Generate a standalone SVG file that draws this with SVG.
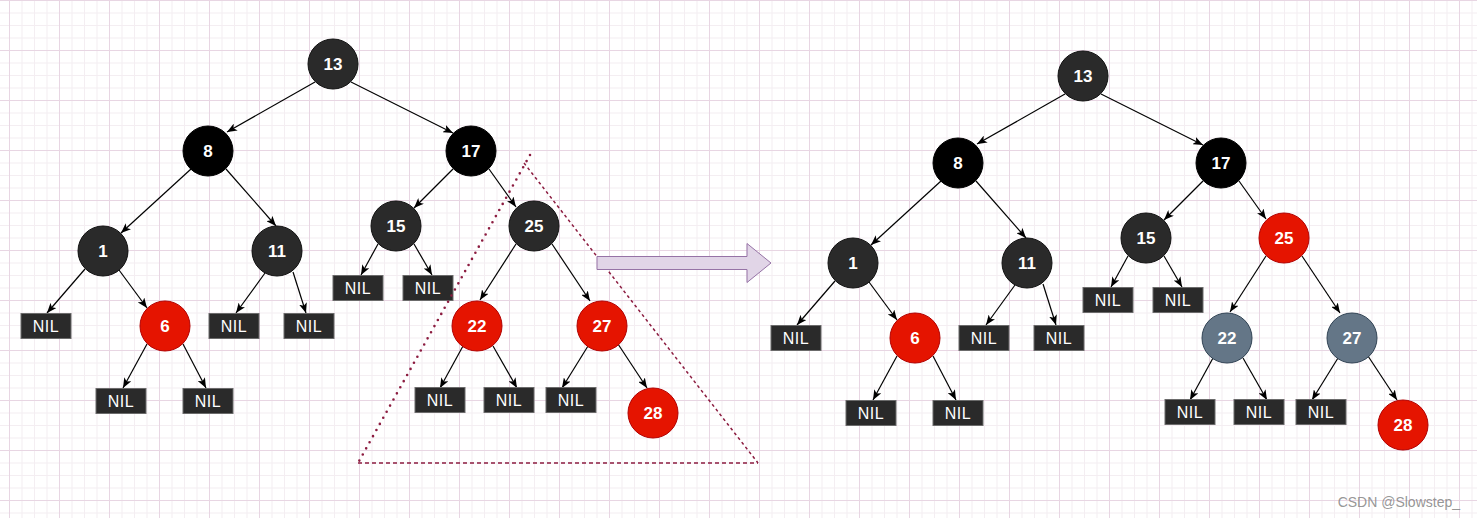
<svg xmlns="http://www.w3.org/2000/svg" width="1477" height="518" viewBox="0 0 1477 518">
<style>
.dark{fill:#2a2a2a;stroke:#111;stroke-width:1}
.black{fill:#000;stroke:#000;stroke-width:1}
.red{fill:#e51400;stroke:#b20000;stroke-width:1}
.slate{fill:#647687;stroke:#314354;stroke-width:1}
.nil{fill:#2a2a2a;stroke:#6b6b6b;stroke-width:1}
.num{font-family:"Liberation Sans",Arial,sans-serif;font-size:17px;font-weight:bold;fill:#fff;text-anchor:middle}
.nt{font-family:"Liberation Sans",Arial,sans-serif;font-size:16px;fill:#fff;text-anchor:middle;letter-spacing:0.5px}
.edge{stroke:#000;stroke-width:1.2;fill:none;marker-end:url(#ah)}
.tri{fill:none;stroke:#8c1c40}
</style>
<defs>
<pattern id="grid" x="9" y="0" width="50" height="50" patternUnits="userSpaceOnUse">
<rect width="50" height="50" fill="#fff"/>
<rect x="12.5" y="0" width="1" height="50" fill="#f4eef2"/>
<rect x="25" y="0" width="1" height="50" fill="#f4eef2"/>
<rect x="37.5" y="0" width="1" height="50" fill="#f4eef2"/>
<rect x="0" y="12.5" width="50" height="1" fill="#f4eef2"/>
<rect x="0" y="25" width="50" height="1" fill="#f4eef2"/>
<rect x="0" y="37.5" width="50" height="1" fill="#f4eef2"/>
<rect x="0" y="0" width="1" height="50" fill="#e8d6e3"/>
<rect x="0" y="0" width="50" height="1" fill="#e8d6e3"/>
</pattern>
<marker id="ah" viewBox="0 0 10 8" refX="10" refY="4" markerWidth="10" markerHeight="8" markerUnits="userSpaceOnUse" orient="auto">
<path d="M0,0 L10,4 L0,8 L2.5,4 z" fill="#000"/>
</marker>
</defs>
<rect width="1477" height="518" fill="url(#grid)"/>

<g id="connectors">
<g id="left-edges">
<line class="edge" x1="315" y1="82" x2="227" y2="132"/>
<line class="edge" x1="351" y1="82" x2="453" y2="133"/>
<line class="edge" x1="191" y1="169" x2="121" y2="233"/>
<line class="edge" x1="226" y1="169" x2="276" y2="226"/>
<line class="edge" x1="453" y1="169" x2="414" y2="208"/>
<line class="edge" x1="489" y1="169" x2="516" y2="207"/>
<line class="edge" x1="85" y1="269" x2="47" y2="313"/>
<line class="edge" x1="119" y1="270" x2="147" y2="308"/>
<line class="edge" x1="265" y1="273" x2="236" y2="313"/>
<line class="edge" x1="293" y1="272" x2="306" y2="313"/>
<line class="edge" x1="147" y1="344" x2="123" y2="388"/>
<line class="edge" x1="183" y1="344" x2="206" y2="388"/>
<line class="edge" x1="378" y1="244" x2="361" y2="275"/>
<line class="edge" x1="414" y1="244" x2="432" y2="275"/>
<line class="edge" x1="516" y1="244" x2="480" y2="300"/>
<line class="edge" x1="552" y1="244" x2="590" y2="301"/>
<line class="edge" x1="463" y1="346" x2="440" y2="388"/>
<line class="edge" x1="493" y1="346" x2="517" y2="388"/>
<line class="edge" x1="588" y1="346" x2="562" y2="388"/>
<line class="edge" x1="618" y1="344" x2="647" y2="388"/>
</g>
<g id="right-edges" transform="translate(750,12)">
<line class="edge" x1="315" y1="82" x2="227" y2="132"/>
<line class="edge" x1="351" y1="82" x2="453" y2="133"/>
<line class="edge" x1="191" y1="169" x2="121" y2="233"/>
<line class="edge" x1="226" y1="169" x2="276" y2="226"/>
<line class="edge" x1="453" y1="169" x2="414" y2="208"/>
<line class="edge" x1="489" y1="169" x2="516" y2="207"/>
<line class="edge" x1="85" y1="269" x2="47" y2="313"/>
<line class="edge" x1="119" y1="270" x2="147" y2="308"/>
<line class="edge" x1="265" y1="273" x2="236" y2="313"/>
<line class="edge" x1="293" y1="272" x2="306" y2="313"/>
<line class="edge" x1="147" y1="344" x2="123" y2="388"/>
<line class="edge" x1="183" y1="344" x2="206" y2="388"/>
<line class="edge" x1="378" y1="244" x2="361" y2="275"/>
<line class="edge" x1="414" y1="244" x2="432" y2="275"/>
<line class="edge" x1="516" y1="244" x2="480" y2="300"/>
<line class="edge" x1="552" y1="244" x2="590" y2="301"/>
<line class="edge" x1="463" y1="346" x2="440" y2="388"/>
<line class="edge" x1="493" y1="346" x2="517" y2="388"/>
<line class="edge" x1="588" y1="346" x2="562" y2="388"/>
<line class="edge" x1="618" y1="344" x2="647" y2="388"/>
</g>
</g>

<!-- Left tree -->
<g id="L13" transform="translate(333,64)"><circle r="25" class="dark"/><text class="num" y="6">13</text></g>
<g id="L8" transform="translate(208,151)"><circle r="25" class="black"/><text class="num" y="6">8</text></g>
<g id="L17" transform="translate(471,151)"><circle r="25" class="black"/><text class="num" y="6">17</text></g>
<g id="L1" transform="translate(103,251)"><circle r="25" class="dark"/><text class="num" y="6">1</text></g>
<g id="L11" transform="translate(277,251)"><circle r="25" class="dark"/><text class="num" y="6">11</text></g>
<g id="L15" transform="translate(396,226)"><circle r="25" class="dark"/><text class="num" y="6">15</text></g>
<g id="L25" transform="translate(534,226)"><circle r="25" class="dark"/><text class="num" y="6">25</text></g>
<g id="L6" transform="translate(165,326)"><circle r="25" class="red"/><text class="num" y="6">6</text></g>
<g id="L22" transform="translate(477,326)"><circle r="25" class="red"/><text class="num" y="6">22</text></g>
<g id="L27" transform="translate(602,326)"><circle r="25" class="red"/><text class="num" y="6">27</text></g>
<g id="L28" transform="translate(653,413)"><circle r="25" class="red"/><text class="num" y="6">28</text></g>
<g id="LN1" transform="translate(46,326)"><rect x="-25" y="-12.5" width="50" height="25" class="nil"/><text class="nt" y="6">NIL</text></g>
<g id="LN2" transform="translate(234,326)"><rect x="-25" y="-12.5" width="50" height="25" class="nil"/><text class="nt" y="6">NIL</text></g>
<g id="LN3" transform="translate(309,326)"><rect x="-25" y="-12.5" width="50" height="25" class="nil"/><text class="nt" y="6">NIL</text></g>
<g id="LN4" transform="translate(121,401)"><rect x="-25" y="-12.5" width="50" height="25" class="nil"/><text class="nt" y="6">NIL</text></g>
<g id="LN5" transform="translate(208,401)"><rect x="-25" y="-12.5" width="50" height="25" class="nil"/><text class="nt" y="6">NIL</text></g>
<g id="LN6" transform="translate(358,288)"><rect x="-25" y="-12.5" width="50" height="25" class="nil"/><text class="nt" y="6">NIL</text></g>
<g id="LN7" transform="translate(428,288)"><rect x="-25" y="-12.5" width="50" height="25" class="nil"/><text class="nt" y="6">NIL</text></g>
<g id="LN8" transform="translate(440,400)"><rect x="-25" y="-12.5" width="50" height="25" class="nil"/><text class="nt" y="6">NIL</text></g>
<g id="LN9" transform="translate(509,400)"><rect x="-25" y="-12.5" width="50" height="25" class="nil"/><text class="nt" y="6">NIL</text></g>
<g id="LN10" transform="translate(571,400)"><rect x="-25" y="-12.5" width="50" height="25" class="nil"/><text class="nt" y="6">NIL</text></g>

<!-- Triangle highlight -->
<g id="triangle">
<line class="tri" x1="530" y1="155" x2="358" y2="463" stroke-width="2.6" stroke-linecap="round" stroke-dasharray="0 7"/>
<line class="tri" x1="524" y1="163" x2="758" y2="463" stroke-width="1.5" stroke-dasharray="3 3"/>
<line class="tri" x1="358" y1="463" x2="758" y2="463" stroke-width="1.6" stroke-dasharray="4 3"/>
</g>

<!-- Transition arrow -->
<g id="bigarrow">
<polygon points="597,256.5 747,256.5 747,243.5 771,263 747,282.5 747,269.5 597,269.5" fill="#e1d5e7" stroke="#9673a6" stroke-width="1"/>
</g>

<!-- Right tree -->
<g id="R13" transform="translate(1083,76)"><circle r="25" class="dark"/><text class="num" y="6">13</text></g>
<g id="R8" transform="translate(958,163)"><circle r="25" class="black"/><text class="num" y="6">8</text></g>
<g id="R17" transform="translate(1221,163)"><circle r="25" class="black"/><text class="num" y="6">17</text></g>
<g id="R1" transform="translate(853,263)"><circle r="25" class="dark"/><text class="num" y="6">1</text></g>
<g id="R11" transform="translate(1027,263)"><circle r="25" class="dark"/><text class="num" y="6">11</text></g>
<g id="R15" transform="translate(1146,238)"><circle r="25" class="dark"/><text class="num" y="6">15</text></g>
<g id="R25" transform="translate(1284,238)"><circle r="25" class="red"/><text class="num" y="6">25</text></g>
<g id="R6" transform="translate(915,338)"><circle r="25" class="red"/><text class="num" y="6">6</text></g>
<g id="R22" transform="translate(1227,338)"><circle r="25" class="slate"/><text class="num" y="6">22</text></g>
<g id="R27" transform="translate(1352,338)"><circle r="25" class="slate"/><text class="num" y="6">27</text></g>
<g id="R28" transform="translate(1403,425)"><circle r="25" class="red"/><text class="num" y="6">28</text></g>
<g id="RN1" transform="translate(796,338)"><rect x="-25" y="-12.5" width="50" height="25" class="nil"/><text class="nt" y="6">NIL</text></g>
<g id="RN2" transform="translate(984,338)"><rect x="-25" y="-12.5" width="50" height="25" class="nil"/><text class="nt" y="6">NIL</text></g>
<g id="RN3" transform="translate(1059,338)"><rect x="-25" y="-12.5" width="50" height="25" class="nil"/><text class="nt" y="6">NIL</text></g>
<g id="RN4" transform="translate(871,413)"><rect x="-25" y="-12.5" width="50" height="25" class="nil"/><text class="nt" y="6">NIL</text></g>
<g id="RN5" transform="translate(958,413)"><rect x="-25" y="-12.5" width="50" height="25" class="nil"/><text class="nt" y="6">NIL</text></g>
<g id="RN6" transform="translate(1108,300)"><rect x="-25" y="-12.5" width="50" height="25" class="nil"/><text class="nt" y="6">NIL</text></g>
<g id="RN7" transform="translate(1178,300)"><rect x="-25" y="-12.5" width="50" height="25" class="nil"/><text class="nt" y="6">NIL</text></g>
<g id="RN8" transform="translate(1190,412)"><rect x="-25" y="-12.5" width="50" height="25" class="nil"/><text class="nt" y="6">NIL</text></g>
<g id="RN9" transform="translate(1259,412)"><rect x="-25" y="-12.5" width="50" height="25" class="nil"/><text class="nt" y="6">NIL</text></g>
<g id="RN10" transform="translate(1321,412)"><rect x="-25" y="-12.5" width="50" height="25" class="nil"/><text class="nt" y="6">NIL</text></g>

<text x="1460" y="507" text-anchor="end" font-family="'Liberation Sans',Arial,sans-serif" font-size="14" fill="#8a8a8a" fill-opacity="0.9">CSDN @Slowstep_</text>
</svg>
